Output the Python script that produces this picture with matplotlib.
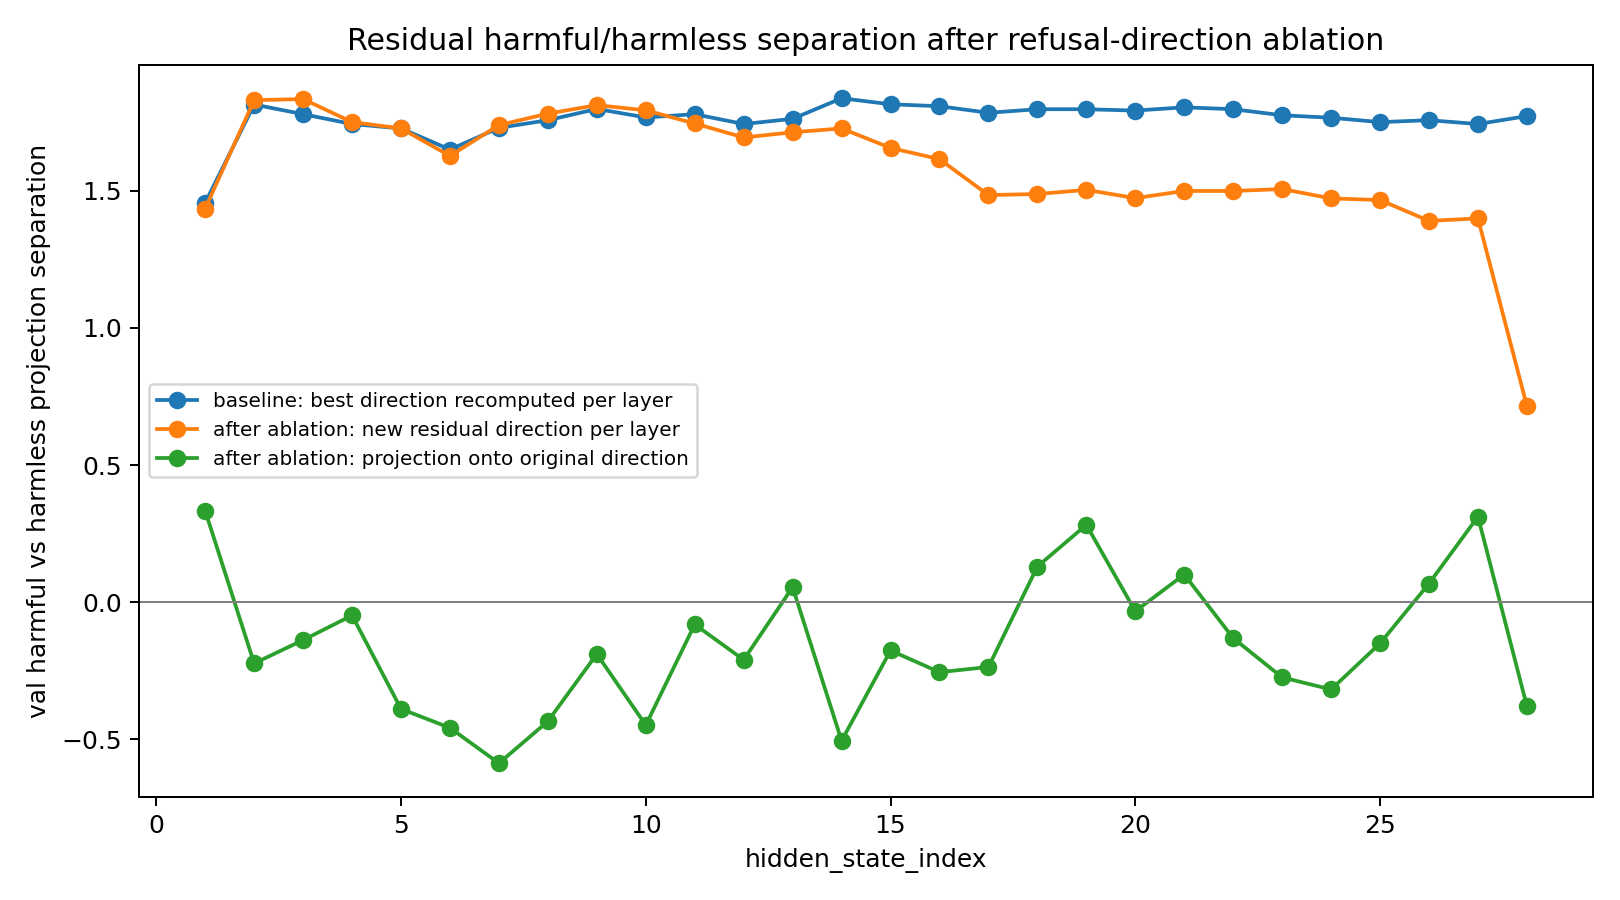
import matplotlib
matplotlib.use("Agg")
import matplotlib.pyplot as plt

layers = list(range(1, 29))
baseline = [1.456, 1.814, 1.779, 1.743, 1.727, 1.650, 1.729, 1.757, 1.798, 1.767,
            1.779, 1.743, 1.762, 1.837, 1.815, 1.808, 1.784, 1.797, 1.797, 1.792,
            1.804, 1.797, 1.775, 1.766, 1.750, 1.757, 1.743, 1.772]
after_new = [1.435, 1.830, 1.834, 1.750, 1.727, 1.627, 1.739, 1.781, 1.812, 1.793,
             1.745, 1.694, 1.713, 1.727, 1.656, 1.615, 1.484, 1.488, 1.503, 1.473,
             1.499, 1.499, 1.506, 1.472, 1.466, 1.390, 1.399, 0.715]
after_orig = [0.333, -0.223, -0.138, -0.048, -0.389, -0.458, -0.587, -0.434, -0.189, -0.448,
              -0.081, -0.210, 0.055, -0.505, -0.176, -0.255, -0.236, 0.130, 0.282, -0.033,
              0.101, -0.131, -0.274, -0.318, -0.150, 0.068, 0.312, -0.379]

labels = ["baseline: best direction recomputed per layer",
          "after ablation: new residual direction per layer",
          "after ablation: projection onto original direction"]

fig, ax = plt.subplots(figsize=(9, 5), dpi=180)
ax.plot(layers, baseline, marker="o", label=labels[0])
ax.plot(layers, after_new, marker="o", label=labels[1])
ax.plot(layers, after_orig, marker="o", label=labels[2])
ax.axhline(0, color="gray", linewidth=0.8)
ax.set_title("Residual harmful/harmless separation after refusal-direction ablation")
ax.set_xlabel("hidden_state_index")
ax.set_ylabel("val harmful vs harmless projection separation")
ax.legend(loc="center left", fontsize=8)
fig.tight_layout()
fig.savefig("out.png")
